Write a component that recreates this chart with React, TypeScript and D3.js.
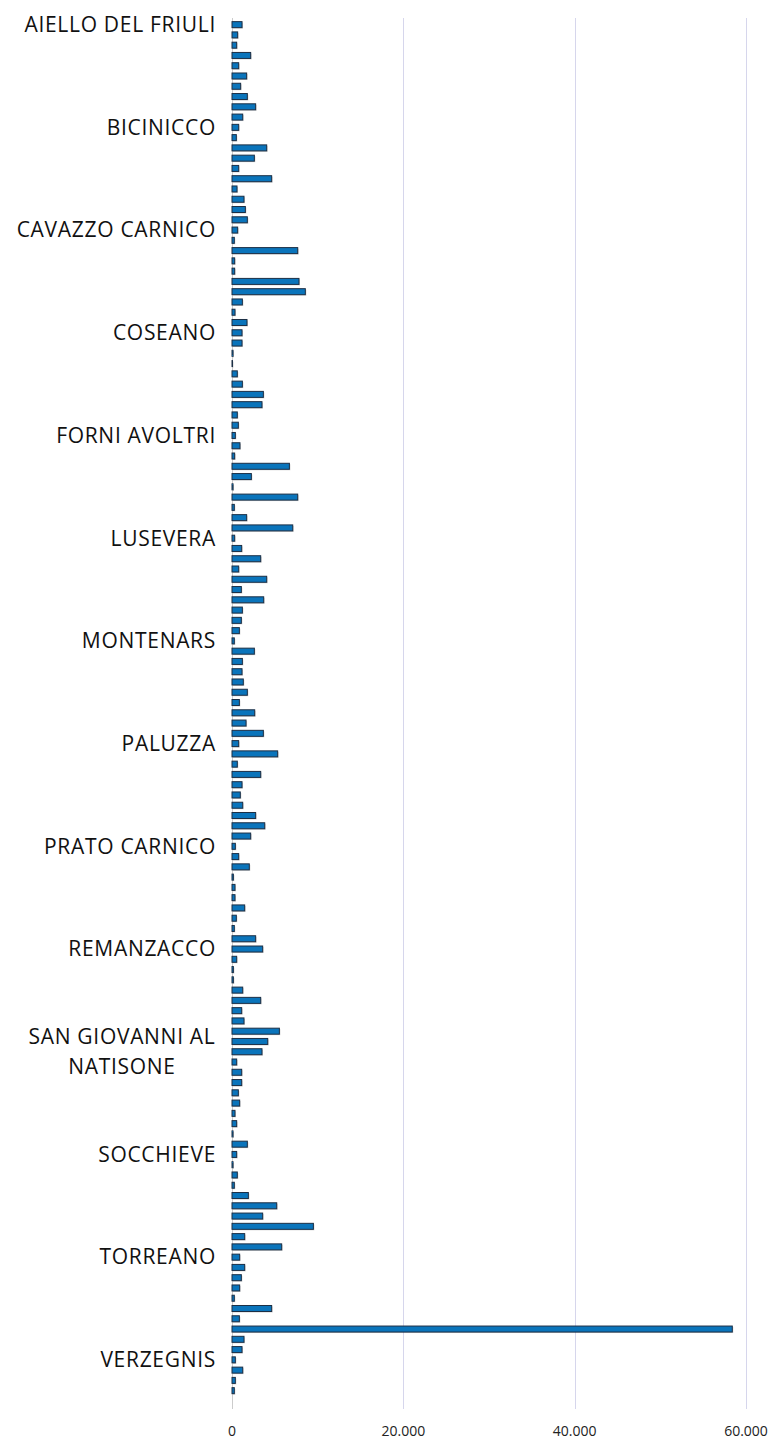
import React from "react";
import * as d3 from "d3";

const comuni: string[] = [
  "Aiello del Friuli", "Amaro", "Ampezzo", "Aquileia", "Arta Terme", "Artegna", "Attimis", "Bagnaria Arsa", "Basiliano", "Bertiolo",
  "Bicinicco", "Bordano", "Buja", "Buttrio", "Camino al Tagliamento", "Campoformido", "Campolongo Tapogliano", "Carlino", "Cassacco", "Castions di Strada",
  "Cavazzo Carnico", "Cercivento", "Cervignano del Friuli", "Chiopris-Viscone", "Chiusaforte", "Cividale del Friuli", "Codroipo", "Colloredo di Monte Albano", "Comeglians", "Corno di Rosazzo",
  "Coseano", "Dignano", "Dogna", "Drenchia", "Enemonzo", "Faedis", "Fagagna", "Fiumicello Villa Vicentina", "Flaibano", "Forgaria nel Friuli",
  "Forni Avoltri", "Forni di Sopra", "Forni di Sotto", "Gemona del Friuli", "Gonars", "Grimacco", "Latisana", "Lauco", "Lestizza", "Lignano Sabbiadoro",
  "Lusevera", "Magnano in Riviera", "Majano", "Malborghetto Valbruna", "Manzano", "Marano Lagunare", "Martignacco", "Mereto di Tomba", "Moggio Udinese", "Moimacco",
  "Montenars", "Mortegliano", "Moruzzo", "Muzzana del Turgnano", "Nimis", "Osoppo", "Ovaro", "Pagnacco", "Palazzolo dello Stella", "Palmanova",
  "Paluzza", "Pasian di Prato", "Paularo", "Pavia di Udine", "Pocenia", "Pontebba", "Porpetto", "Povoletto", "Pozzuolo del Friuli", "Pradamano",
  "Prato Carnico", "Precenicco", "Premariacco", "Preone", "Prepotto", "Pulfero", "Ragogna", "Ravascletto", "Raveo", "Reana del Rojale",
  "Remanzacco", "Resia", "Resiutta", "Rigolato", "Rive d'Arcano", "Rivignano Teor", "Ronchis", "Ruda", "San Daniele del Friuli", "San Giorgio di Nogaro",
  "San Giovanni al Natisone", "San Leonardo", "San Pietro al Natisone", "San Vito al Torre", "San Vito di Fagagna", "Santa Maria la Longa", "Sappada", "Sauris", "Savogna", "Sedegliano",
  "Socchieve", "Stregna", "Sutrio", "Taipana", "Talmassons", "Tarcento", "Tarvisio", "Tavagnacco", "Terzo d'Aquileia", "Tolmezzo",
  "Torreano", "Torviscosa", "Trasaghis", "Treppo Grande", "Treppo Ligosullo", "Tricesimo", "Trivignano Udinese", "Udine", "Varmo", "Venzone",
  "Verzegnis", "Villa Santina", "Visco", "Zuglio",
];

const valori: number[] = [
  1170, 660, 545, 2180, 780, 1710, 1010, 1790, 2760, 1250,
  780, 505, 4050, 2610, 780, 4630, 585, 1400, 1560, 1790,
  660, 270, 7670, 310, 310, 7820, 8560, 1210, 350, 1750,
  1170, 1170, 120, 40, 620, 1210, 3660, 3500, 620, 740,
  390, 930, 310, 6700, 2260, 120, 7670, 270, 1710, 7090,
  310, 1130, 3350, 780, 4050, 1090, 3700, 1210, 1090, 860,
  270, 2610, 1210, 1170, 1320, 1790, 860, 2650, 1640, 3660,
  780, 5330, 620, 3350, 1170, 970, 1250, 2760, 3820, 2180,
  390, 780, 2020, 160, 350, 350, 1480, 505, 270, 2760,
  3580, 545, 160, 160, 1250, 3350, 1130, 1400, 5530, 4170,
  3500, 545, 1130, 1130, 740, 895, 350, 545, 120, 1790,
  545, 120, 620, 270, 1910, 5220, 3580, 9500, 1480, 5800,
  895, 1480, 1090, 895, 270, 4630, 860, 58400, 1400, 1170,
  390, 1250, 390, 270,
];

const tickValues: number[] = [0, 20000, 40000, 60000];
const tickLabels: string[] = ["0", "20.000", "40.000", "60.000"];

const W = 776;
const H = 1439;
const plotLeft = 232;
const plotRight = 746;
const plotTop = 19.5;
const plotBottom = 1395.8;

function wrap(label: string): string[] {
  const up = label.toUpperCase();
  if (up.length <= 17) return [up];
  const words = up.split(" ");
  const lines: string[] = [];
  let cur = "";
  for (const w of words) {
    const t = cur ? cur + " " + w : w;
    if (t.length > 16 && cur) {
      lines.push(cur);
      cur = w;
    } else cur = t;
  }
  if (cur) lines.push(cur);
  return lines;
}

export default function App() {
  const x = d3.scaleLinear().domain([0, 60000]).range([plotLeft, plotRight]);
  const y = d3.scaleBand<string>().domain(comuni).range([plotTop, plotBottom]).paddingInner(0).paddingOuter(0);
  const bw = y.bandwidth();
  const barH = 6;
  const labelIdx = comuni.map((_, i) => i).filter((i) => i % 10 === 0);

  return (
    <svg width={W} height={H} style={{ position: "absolute", left: 0, top: 0 }} fontFamily="'Open Sans', sans-serif">
      <rect x={0} y={0} width={W} height={H} fill="#ffffff" />
      {tickValues.map((t, i) => (
        <line
          key={"g" + i}
          x1={Math.round(x(t)) + 0.5}
          x2={Math.round(x(t)) + 0.5}
          y1={18}
          y2={1409}
          stroke={i === 0 ? "#cccccc" : "#d6d6ec"}
          strokeWidth={1}
        />
      ))}
      {comuni.map((c, i) => {
        const cy = (y(c) as number) + bw / 2;
        const w = x(valori[i]) - x(0);
        return (
          <g key={"b" + i}>
            <rect x={x(0) + 1} y={cy - barH / 2 + 1} width={Math.max(w, 0.5)} height={barH} fill="rgba(0,0,0,0.18)" />
            <rect
              x={x(0)}
              y={cy - barH / 2}
              width={Math.max(w, 0.5)}
              height={barH}
              fill="#0a74bb"
              stroke="#1c2f45"
              strokeWidth={1}
            />
          </g>
        );
      })}
      {labelIdx.map((i) => {
        const c = comuni[i];
        const cy = (y(c) as number) + bw / 2;
        const lines = wrap(c);
        const lh = 30;
        const cx = 122;
        if (lines.length === 1) {
          return (
            <text key={"l" + i} x={216} y={cy} dy="0.35em" textAnchor="end" fontSize={21} letterSpacing={0.7} fill="#111">
              {lines[0]}
            </text>
          );
        }
        return (
          <text key={"l" + i} textAnchor="middle" fontSize={21} letterSpacing={0.7} fill="#111">
            {lines.map((ln, k) => (
              <tspan key={k} x={cx} y={cy + (k - (lines.length - 1) / 2) * lh} dy="0.35em">
                {ln}
              </tspan>
            ))}
          </text>
        );
      })}
      {tickValues.map((t, i) => (
        <text key={"t" + i} x={x(t)} y={1431} dy="0.35em" textAnchor="middle" fontSize={14} fill="#222">
          {tickLabels[i]}
        </text>
      ))}
    </svg>
  );
}
